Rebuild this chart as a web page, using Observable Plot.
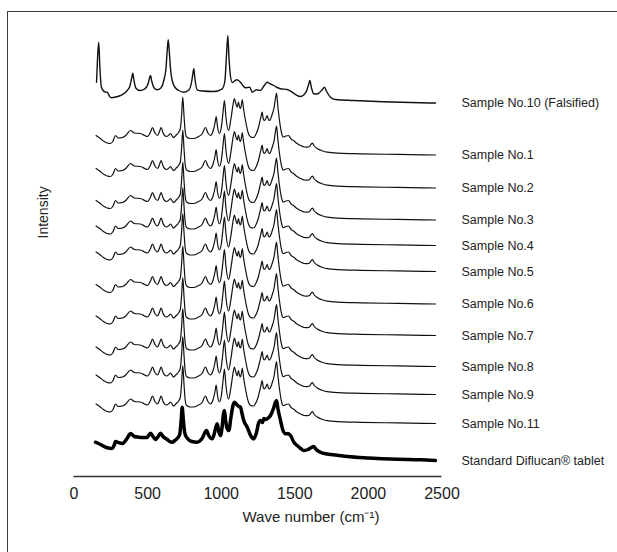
<!DOCTYPE html>
<html>
<head>
<meta charset="utf-8">
<script src="https://cdn.jsdelivr.net/npm/d3@7"></script>
<script src="https://cdn.jsdelivr.net/npm/@observablehq/plot@0.6"></script>
<style>
  html, body { margin: 0; padding: 0; background: #fff; overflow: hidden; }
  #wrap { position: relative; width: 617px; height: 552px; overflow: hidden; font-family: "Liberation Sans", Arial, sans-serif; }
  #frame { position: absolute; left: 7px; top: 11px; width: 700px; height: 700px; border: 1.5px solid #3a3a3a; box-sizing: border-box; }
  #chart { position: absolute; left: 0; top: 0; }
</style>
</head>
<body>
<div id="wrap"><div id="frame"></div><div id="chart"></div></div>
<script>
// ---- data ----
const sampleNames = [
  "Sample No.10 (Falsified)", "Sample No.1", "Sample No.2", "Sample No.3", "Sample No.4",
  "Sample No.5", "Sample No.6", "Sample No.7", "Sample No.8", "Sample No.9",
  "Sample No.11", "Standard Diflucan® tablet"
];
// vertical stacking offset of each spectrum (intensity units)
const baselines = [373.5, 321.5, 288.5, 256.5, 231, 205, 172.5, 141, 110, 82, 53, 16];
const profileKind = ["falsified", "genuine", "genuine", "genuine", "genuine", "genuine",
  "genuine", "genuine", "genuine", "genuine", "genuine", "standard"];

// genuine fluconazole spectrum (Samples 1–9, 11)
const genuineWn = [150, 175, 200, 225, 248, 265, 282, 300, 329, 355, 384, 410, 452, 480, 499, 520, 533, 550,
  567, 582, 592, 605, 628, 645, 656, 668, 676, 695, 710, 722, 731, 739, 747, 755, 765, 790, 812, 840, 870,
  893, 910, 927, 945, 958, 966, 975, 988, 1000, 1012, 1022, 1032, 1050, 1065, 1080, 1090, 1100, 1109,
  1117, 1125, 1131, 1137, 1143, 1152, 1165, 1185, 1200, 1219, 1240, 1253, 1270, 1278, 1286, 1294, 1305,
  1312, 1320, 1328, 1345, 1360, 1370, 1376, 1384, 1396, 1410, 1421, 1440, 1457, 1475, 1491, 1515, 1539,
  1565, 1584, 1600, 1612, 1620, 1632, 1652, 1690, 1720, 1800, 1946, 2200, 2456];
const genuineInt = [19.5, 17, 14, 12, 11.5, 14, 19.5, 17, 17.5, 20, 24.5, 22, 21.5, 19.5, 18.5, 23, 27.5, 22,
  19.5, 24, 27.5, 22, 18.5, 20, 21.5, 19, 17.5, 20, 22.5, 26, 40, 57.8, 40, 24, 18, 16.5, 16.5, 18, 21,
  27.5, 22, 19.5, 24, 32, 38.5, 28, 21.5, 27, 42, 54.5, 38, 24.5, 35, 50, 56.5, 51, 47.8,
  52.8, 48, 46.5, 50, 55.5, 46, 34.5, 21.5, 18, 17.5, 22, 27.5, 38, 42.8, 36, 34.5, 37,
  39.5, 36, 34.5, 40, 48, 58, 61.8, 50, 34.5, 22, 17.8, 19, 19.5, 16, 14.5, 11.5, 9.5,
  8, 7.8, 8.5, 11, 11.8, 9, 6.5, 4, 2.8, 1.8, 1.2, 0.6, 0];

// standard Diflucan tablet
const standardWn = [146, 180, 220, 259, 272, 282, 300, 330, 360, 384, 410, 440, 470, 495, 520, 537, 554, 572,
  588, 605, 633, 650, 667, 685, 701, 718, 728, 735, 743, 752, 764, 800, 837, 870, 900, 915, 939, 955, 965,
  973, 985, 995, 1005, 1015, 1022, 1030, 1040, 1052, 1065, 1080, 1090, 1105, 1120, 1131, 1143, 1153, 1177,
  1200, 1221, 1240, 1255, 1267, 1280, 1290, 1301, 1315, 1335, 1355, 1368, 1376, 1385, 1403, 1420, 1437,
  1455, 1471, 1495, 1516, 1540, 1561, 1590, 1612, 1629, 1645, 1674, 1720, 1800, 1856, 2000, 2200, 2354, 2456];
const standardInt = [18.3, 16, 13, 12, 15, 19, 18, 17, 22, 27, 24, 23.3, 23, 23, 27.3, 24, 21, 24,
  27.3, 24, 21, 19, 18.3, 20, 22, 26, 40, 53.3, 40, 28, 23.3, 19, 18.3, 22, 30, 25, 21.7, 28, 34,
  36.7, 28, 25, 32, 46, 50, 40, 32, 30, 42, 55, 58.3, 56, 54, 53.3, 46, 40, 33.3,
  25, 21.7, 28, 38, 40, 38, 42, 41, 42, 45, 52, 58, 60, 52, 40, 30, 26.7,
  27, 25, 18, 15, 12, 10, 11, 13, 14, 11, 8.3, 6.5, 5, 4, 2.5, 1.2, 0.7, 0];

// falsified sample No.10
const falsifiedWn = [153, 160, 168, 176, 186, 198, 212, 226, 240, 253, 285, 316, 345, 361, 380, 392, 399, 407,
  420, 447, 480, 505, 513, 520, 528, 545, 565, 590, 610, 625, 633, 640, 648, 657, 667, 690, 712, 746, 780,
  800, 808, 814, 820, 837, 870, 950, 1007, 1025, 1035, 1045, 1053, 1062, 1075, 1090, 1106, 1131, 1150,
  1165, 1180, 1194, 1211, 1225, 1240, 1267, 1290, 1312, 1335, 1357, 1380, 1403, 1448, 1482, 1510, 1539,
  1560, 1580, 1593, 1602, 1612, 1629, 1650, 1663, 1685, 1702, 1715, 1742, 1776, 1901, 2100, 2354, 2456];
const falsifiedInt = [20.8, 45, 60.8, 35, 16, 12.5, 11, 10.8, 7, 5.2, 6, 7.5, 10, 12.5, 17, 25, 29.8, 23,
  15, 12.5, 14, 20, 25, 27.5, 22, 15, 13.2, 15, 22.5, 35, 52, 63.2, 50, 32, 22.5, 15, 12.5, 10.8, 13,
  22, 30, 34.2, 26, 13.2, 12, 11.5, 14.2, 22, 45, 67.5, 45, 28, 20.5, 22, 23.2, 20.8, 17,
  15.2, 15.5, 15.8, 10.8, 12, 13.2, 12.5, 17, 20.8, 19, 17.5, 15.5, 14.2, 13.5, 10.8, 8, 6.5,
  8, 12, 18, 22.5, 16, 9.2, 9, 9.8, 13, 15.8, 12, 5.8, 3.5, 2.5, 1.2, 0.2, 0];

const xTicks = [0, 500, 1000, 1500, 2000, 2500];

// ---- build table ----
const profiles = {
  genuine: [genuineWn, genuineInt],
  standard: [standardWn, standardInt],
  falsified: [falsifiedWn, falsifiedInt]
};
const rows = [];
const labels = [];
sampleNames.forEach((name, i) => {
  const [wn, it] = profiles[profileKind[i]];
  wn.forEach((w, j) => rows.push({name, kind: profileKind[i], w, v: baselines[i] + it[j]}));
  labels.push({name, w: wn[wn.length - 1], v: baselines[i]});
});

const font = "'Liberation Sans', Arial, Helvetica, sans-serif";
const chart = Plot.plot({
  width: 617,
  height: 552,
  marginLeft: 73.5,
  marginRight: 175.5,
  marginTop: 16,
  marginBottom: 76,
  style: {fontFamily: font, fontSize: "16px", color: "#222", background: "transparent", overflow: "visible"},
  x: {domain: [0, 2500], ticks: xTicks, tickSize: 0, tickPadding: 11, tickFormat: d => String(d), label: null},
  y: {domain: [0, 460], axis: null},
  marks: [
    Plot.ruleY([0], {stroke: "#333", strokeWidth: 1.5}),
    Plot.line(rows.filter(d => d.kind === "genuine"), {x: "w", y: "v", z: "name", stroke: "#111", strokeWidth: 1.2, curve: "monotone-x"}),
    Plot.line(rows.filter(d => d.kind === "falsified"), {x: "w", y: "v", z: "name", stroke: "#111", strokeWidth: 1.4, curve: "monotone-x"}),
    Plot.line(rows.filter(d => d.kind === "standard"), {x: "w", y: "v", z: "name", stroke: "#000", strokeWidth: 3.5, curve: "monotone-x"}),
    Plot.text(labels, {x: "w", y: "v", text: "name", textAnchor: "start", dx: 26, fontSize: 12.5, fill: "#222"}),
    Plot.text(["Wave number (cm⁻¹)"], {frameAnchor: "bottom", dx: 53, dy: 45, fontSize: 15, fill: "#222"}),
    Plot.text(["Intensity"], {frameAnchor: "left", rotate: -90, dx: -30, dy: -8, fontSize: 14, fill: "#222"})
  ]
});
document.getElementById("chart").appendChild(chart);
</script>
</body>
</html>
